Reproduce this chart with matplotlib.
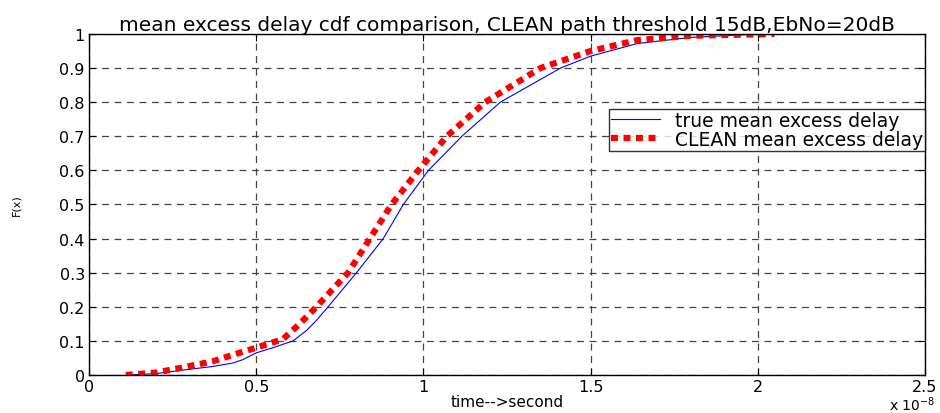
import matplotlib.pyplot as plt

plt.rcParams['font.family'] = ['DejaVu Sans']
plt.rcParams['lines.scale_dashes'] = False

######################################################################
# data (time in units of 1e-8 s)
######################################################################

true_t = [0.12, 0.20, 0.27, 0.37, 0.43, 0.46, 0.50, 0.55, 0.61, 0.65,
          0.68, 0.715, 0.80, 0.88, 0.94, 1.015, 1.115, 1.23, 1.41, 1.50,
          1.64, 1.80, 2.00]
true_F = [0.0, 0.004, 0.013, 0.025, 0.035, 0.045, 0.065, 0.08, 0.10, 0.13,
          0.16, 0.20, 0.30, 0.40, 0.50, 0.60, 0.70, 0.80, 0.90, 0.935,
          0.972, 0.99, 1.0]

clean_t = [0.11, 0.20, 0.27, 0.37, 0.45, 0.50, 0.58, 0.63, 0.68, 0.775,
           0.84, 0.905, 0.985, 1.07, 1.185, 1.35, 1.50, 1.64, 1.80, 2.05]
clean_F = [0.0, 0.007, 0.02, 0.04, 0.065, 0.08, 0.105, 0.15, 0.20, 0.30,
           0.40, 0.50, 0.60, 0.70, 0.80, 0.90, 0.95, 0.982, 0.995, 1.0]

xticks = [0, 0.5, 1, 1.5, 2, 2.5]
yticks = [0, 0.1, 0.2, 0.3, 0.4, 0.5, 0.6, 0.7, 0.8, 0.9, 1]

######################################################################
# plot
######################################################################

fig = plt.figure(figsize = (9.4, 4.14), dpi = 100)
ax = fig.add_axes([0.0947, 0.0918, 0.8893, 0.8237])

ax.plot(true_t, true_F, color = '#0000ff', lw = 0.8, label = "true mean excess delay")
ax.plot(clean_t, clean_F, color = '#ff0000', lw = 4.5, dashes = (5, 4),
        dash_capstyle = 'butt', label = "CLEAN mean excess delay")

ax.set_xlim(0, 2.5)
ax.set_ylim(0, 1)
ax.set_xticks(xticks)
ax.set_xticklabels([f"{v:g}" for v in xticks])
ax.set_yticks(yticks)
ax.set_yticklabels([f"{v:g}" for v in yticks])
ax.tick_params(direction = 'in', top = True, right = True, length = 5,
               labelsize = 11.5, pad = 3)
ax.grid(True, color = '#444444', lw = 0.9, dashes = (5, 4))
for s in ax.spines.values():
    s.set_linewidth(1.0)

ax.set_title("mean excess delay cdf comparison, CLEAN path threshold 15dB,EbNo=20dB",
             fontsize = 14.5, pad = 3)
ax.set_xlabel("time-->second", fontsize = 11, labelpad = 0)
ax.set_ylabel("F(x)", fontsize = 8)
ax.yaxis.set_label_coords(-0.081, 0.5)
fig.text(0.995, 0.0, r"x 10$^{-8}$", fontsize = 10, ha = 'right', va = 'bottom')

leg = ax.legend(loc = 'upper right', bbox_to_anchor = (1.0, 0.78), fontsize = 13.5,
                frameon = True, fancybox = False, borderpad = 0.1, labelspacing = 0.0,
                handlelength = 2.6, handletextpad = 0.8, borderaxespad = 0)
leg.get_frame().set_edgecolor('black')
leg.get_frame().set_linewidth(1.0)

fig.savefig("out.png", dpi = 100)
